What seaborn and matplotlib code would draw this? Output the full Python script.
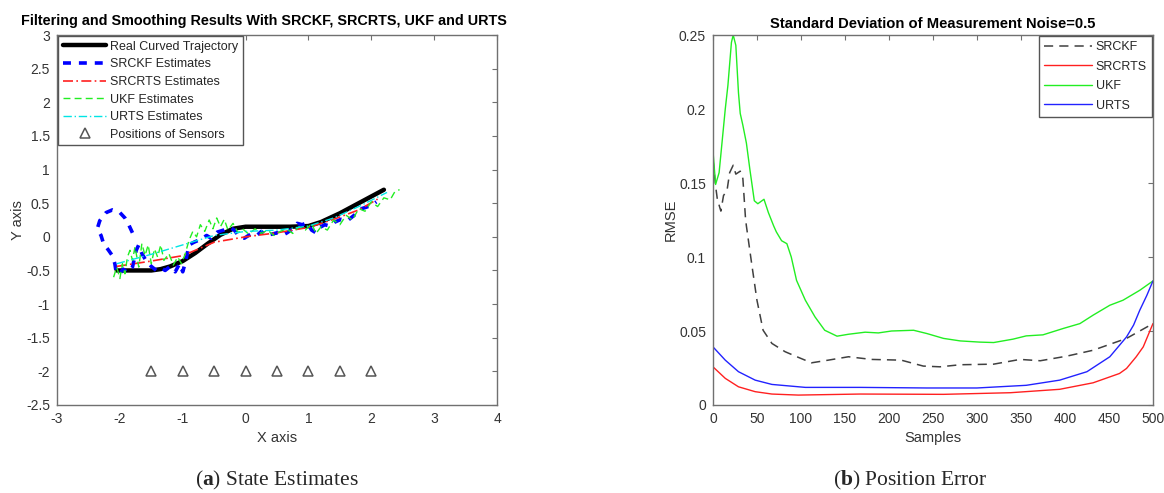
import matplotlib
matplotlib.use("Agg")
import matplotlib.pyplot as plt
import matplotlib.ticker as mticker
import seaborn as sns

# ---- left panel: trajectories ----
real_x = [-2.05, -1.8, -1.5, -1.35, -1.2, -1.0, -0.8, -0.6, -0.4, -0.2, 0.0, 0.3, 0.7, 1.0, 1.2, 1.5, 1.8, 2.2]
real_y = [-0.5, -0.5, -0.5, -0.48, -0.44, -0.36, -0.24, -0.10, 0.03, 0.12, 0.15, 0.15, 0.15, 0.16, 0.22, 0.35, 0.50, 0.70]

srckf_x = [-1.80, -1.86, -1.92, -2.00, -2.12, -2.22, -2.32, -2.36, -2.30, -2.26, -2.18, -2.12, -2.08, -2.06,
           -2.00, -1.95, -1.88, -1.80, -1.74, -1.70, -1.65, -1.58, -1.50, -1.42, -1.35, -1.28, -1.20, -1.12,
           -1.05, -1.00, -0.95, -0.90, -0.82, -0.72, -0.62, -0.55, -0.45, -0.35, -0.25, -0.18, -0.10, -0.02,
           0.08, 0.18, 0.25, 0.32, 0.42, 0.50, 0.58, 0.66, 0.75, 0.82, 0.90, 0.98, 1.05, 1.12, 1.18, 1.26,
           1.34, 1.42, 1.52, 1.62, 1.70, 1.78, 1.85, 1.92, 2.00, 2.08]
srckf_y = [0.06, 0.18, 0.28, 0.36, 0.40, 0.36, 0.24, 0.12, 0.02, -0.10, -0.20, -0.28, -0.40, -0.52,
           -0.55, -0.48, -0.53, -0.45, -0.20, -0.12, -0.25, -0.36, -0.44, -0.50, -0.46, -0.50, -0.44, -0.52,
           -0.40, -0.52, -0.35, -0.12, -0.08, -0.04, 0.02, -0.02, 0.07, 0.10, 0.14, 0.10, 0.00, -0.02,
           0.04, 0.02, 0.08, 0.02, 0.04, 0.06, 0.02, 0.06, 0.12, 0.20, 0.18, 0.21, 0.10, 0.06, 0.14, 0.18,
           0.16, 0.22, 0.26, 0.24, 0.30, 0.36, 0.42, 0.44, 0.47, 0.52]

srcrts_x = [-2.05, -1.5, -1.0, -0.5, 0.0, 0.5, 1.0, 1.4, 1.8, 2.1]
srcrts_y = [-0.44, -0.36, -0.28, -0.08, 0.0, 0.06, 0.14, 0.26, 0.40, 0.56]

ukf_x = [-2.10, -2.05, -2.00, -1.96, -1.92, -1.88, -1.84, -1.80, -1.76, -1.70, -1.65, -1.60, -1.55, -1.50,
         -1.45, -1.40, -1.35, -1.30, -1.22, -1.15, -1.08, -1.02, -0.96, -0.90, -0.84, -0.78, -0.72, -0.65,
         -0.58, -0.52, -0.46, -0.40, -0.34, -0.28, -0.20, -0.12, -0.05, 0.05, 0.15, 0.25, 0.35, 0.45, 0.55,
         0.65, 0.75, 0.85, 0.95, 1.05, 1.12, 1.20, 1.30, 1.40, 1.50, 1.60, 1.70, 1.80, 1.90, 2.00, 2.10,
         2.20, 2.30, 2.38, 2.45]
ukf_y = [-0.60, -0.45, -0.62, -0.40, -0.55, -0.30, -0.20, -0.35, -0.15, -0.45, -0.10, -0.28, -0.12, -0.40,
         -0.18, -0.30, -0.12, -0.35, -0.25, -0.42, -0.30, -0.40, -0.25, -0.05, 0.08, 0.00, 0.18, 0.08,
         0.25, 0.12, 0.28, 0.15, 0.26, 0.10, 0.20, 0.06, 0.12, 0.04, 0.12, 0.05, 0.10, 0.02, 0.08,
         0.12, 0.05, 0.15, 0.10, 0.20, 0.05, 0.15, 0.10, 0.25, 0.18, 0.32, 0.25, 0.42, 0.38, 0.52, 0.45,
         0.58, 0.55, 0.68, 0.70]

urts_x = [-2.05, -1.5, -1.0, -0.5, 0.0, 0.5, 1.0, 1.4, 1.8, 2.25]
urts_y = [-0.40, -0.26, -0.12, 0.02, 0.08, 0.10, 0.16, 0.28, 0.45, 0.66]

sensor_x = [-1.5, -1.0, -0.5, 0.0, 0.5, 1.0, 1.5, 2.0]
sensor_y = [-2, -2, -2, -2, -2, -2, -2, -2]

# ---- right panel: RMSE vs samples ----
ukf_s = [0, 3, 7, 14, 17, 21, 23, 26, 29, 31, 34, 38, 42, 47, 51, 58, 63, 69, 72, 78, 84, 89, 95, 105,
         116, 127, 141, 154, 173, 188, 203, 228, 243, 262, 281, 303, 319, 341, 356, 375, 398, 417, 432,
         451, 466, 485, 500]
ukf_rmse = [0.172, 0.149, 0.157, 0.200, 0.216, 0.245, 0.250, 0.243, 0.211, 0.197, 0.189, 0.177, 0.159,
            0.138, 0.136, 0.139, 0.130, 0.121, 0.117, 0.111, 0.109, 0.100, 0.0842, 0.0708, 0.0595, 0.0505,
            0.0465, 0.0478, 0.0492, 0.0487, 0.0500, 0.0505, 0.0483, 0.0450, 0.0433, 0.0425, 0.0422, 0.0445,
            0.0467, 0.0474, 0.0517, 0.0550, 0.0607, 0.0674, 0.0708, 0.0775, 0.0838]

srckf_s = [0, 3, 5, 9, 12, 16, 19, 23, 26, 31, 34, 37, 38, 44, 50, 57, 67, 82, 97, 112, 131, 154, 180,
           214, 239, 258, 281, 319, 349, 372, 402, 432, 470, 500]
srckf_rmse = [0.166, 0.148, 0.139, 0.131, 0.1415, 0.145, 0.157, 0.162, 0.156, 0.158, 0.153, 0.126, 0.121,
              0.0955, 0.0708, 0.0505, 0.0416, 0.036, 0.0322, 0.0285, 0.0303, 0.0326, 0.0308, 0.0303, 0.0263,
              0.0258, 0.0272, 0.0276, 0.0308, 0.0299, 0.033, 0.037, 0.045, 0.055]

urts_s = [0, 14, 29, 48, 67, 105, 167, 243, 300, 356, 394, 425, 451, 470, 478, 485, 493, 500]
urts_rmse = [0.0393, 0.0303, 0.0225, 0.0168, 0.0139, 0.0119, 0.0119, 0.0115, 0.0115, 0.0133, 0.0168,
             0.0225, 0.0326, 0.046, 0.054, 0.064, 0.074, 0.0838]

srcrts_s = [0, 14, 29, 48, 67, 97, 167, 262, 338, 394, 432, 462, 470, 481, 489, 500]
srcrts_rmse = [0.0258, 0.018, 0.0123, 0.009, 0.0074, 0.0067, 0.0074, 0.0072, 0.0083, 0.0106, 0.015,
               0.0213, 0.0247, 0.0326, 0.0393, 0.055]

sns.set_style("white")
plt.rcParams["font.family"] = ["Liberation Sans", "DejaVu Sans"]
plt.rcParams["axes.unicode_minus"] = False
plt.rcParams["mathtext.fontset"] = "custom"
plt.rcParams["mathtext.bf"] = "Liberation Serif:bold"
plt.rcParams["mathtext.rm"] = "Liberation Serif"

text_c = "#333333"
spine_c = "#707070"

fig = plt.figure(figsize=(11.64, 4.93), dpi=100)
ax1 = fig.add_axes([0.049, 0.1785, 0.378, 0.7505])
ax2 = fig.add_axes([0.6125, 0.1785, 0.378, 0.7505])

# left
sns.lineplot(x=real_x, y=real_y, sort=False, estimator=None, color="black", lw=3.2, ax=ax1,
             label="Real Curved Trajectory")
sns.lineplot(x=srckf_x, y=srckf_y, sort=False, estimator=None, color="#0000ff", lw=2.6, ax=ax1,
             label="SRCKF Estimates", linestyle=(0, (2.2, 2.2)))
sns.lineplot(x=srcrts_x, y=srcrts_y, sort=False, estimator=None, color="#ff2020", lw=1.2, ax=ax1,
             label="SRCRTS Estimates", linestyle=(0, (6, 2, 1, 2)))
sns.lineplot(x=ukf_x, y=ukf_y, sort=False, estimator=None, color="#22ee22", lw=1.0, ax=ax1,
             label="UKF Estimates", linestyle=(0, (5, 3)))
sns.lineplot(x=urts_x, y=urts_y, sort=False, estimator=None, color="#00e5e5", lw=1.0, ax=ax1,
             label="URTS Estimates", linestyle=(0, (6, 2, 1, 2)))
ax1.plot(sensor_x, sensor_y, linestyle="none", marker="^", markersize=7, markerfacecolor="none",
         markeredgecolor="#555555", markeredgewidth=1.1, label="Positions of Sensors")

ax1.set_xlim(-3, 4)
ax1.set_ylim(-2.5, 3)
ax1.set_xticks(range(-3, 5))
ax1.set_yticks([-2.5, -2, -1.5, -1, -0.5, 0, 0.5, 1, 1.5, 2, 2.5, 3])
ax1.set_title("Filtering and Smoothing Results With SRCKF, SRCRTS, UKF and URTS",
              fontsize=10.4, fontweight="bold", color="black", pad=7, x=0.47)
ax1.set_xlabel("X axis", fontsize=10.5, color=text_c, labelpad=4)
ax1.set_ylabel("Y axis", fontsize=10.5, color=text_c)
ax1.yaxis.set_label_coords(-0.072, 0.5)
ax1.legend(loc="upper left", fontsize=9, handlelength=3.5, borderaxespad=0.1, framealpha=1,
           fancybox=False, edgecolor="#555555", labelspacing=0.45, borderpad=0.35, handletextpad=0.3)

# right
sns.lineplot(x=srckf_s, y=srckf_rmse, color="#404040", lw=1.1, ax=ax2, label="SRCKF",
             linestyle=(0, (6, 4)))
sns.lineplot(x=srcrts_s, y=srcrts_rmse, color="#ff2020", lw=1.0, ax=ax2, label="SRCRTS")
sns.lineplot(x=ukf_s, y=ukf_rmse, color="#22ee22", lw=1.0, ax=ax2, label="UKF")
sns.lineplot(x=urts_s, y=urts_rmse, color="#2222ff", lw=1.0, ax=ax2, label="URTS")

ax2.set_xlim(0, 500)
ax2.set_ylim(0, 0.25)
ax2.set_xticks(range(0, 501, 50))
ax2.set_yticks([0, 0.05, 0.1, 0.15, 0.2, 0.25])
ax2.set_title("Standard Deviation of Measurement Noise=0.5", fontsize=10.6, fontweight="bold",
              color="black", pad=5)
ax2.set_xlabel("Samples", fontsize=10.5, color=text_c, labelpad=4)
ax2.set_ylabel("RMSE", fontsize=10.5, color=text_c)
ax2.yaxis.set_label_coords(-0.081, 0.5)
ax2.legend(loc="upper right", fontsize=9, handlelength=3.8, borderaxespad=0.1, framealpha=1,
           fancybox=False, edgecolor="#555555", labelspacing=0.6, borderpad=0.4, handletextpad=0.3)

fmt = mticker.FuncFormatter(lambda v, p: "%g" % v)
for ax in (ax1, ax2):
    ax.xaxis.set_major_formatter(fmt)
    ax.yaxis.set_major_formatter(fmt)
    ax.tick_params(direction="in", length=3.5, width=0.8, colors=spine_c, labelcolor=text_c,
                   labelsize=10, top=True, right=True, pad=5)
    for s in ax.spines.values():
        s.set_color(spine_c)
        s.set_linewidth(1.0)
    ax.grid(False)

fig.text(0.238, 0.026, r"($\mathbf{a}$) State Estimates", ha="center", va="center",
         fontsize=15.5, family="Liberation Serif")
fig.text(0.782, 0.026, r"($\mathbf{b}$) Position Error", ha="center", va="center",
         fontsize=15.5, family="Liberation Serif")

fig.savefig("out.png", dpi=100)
